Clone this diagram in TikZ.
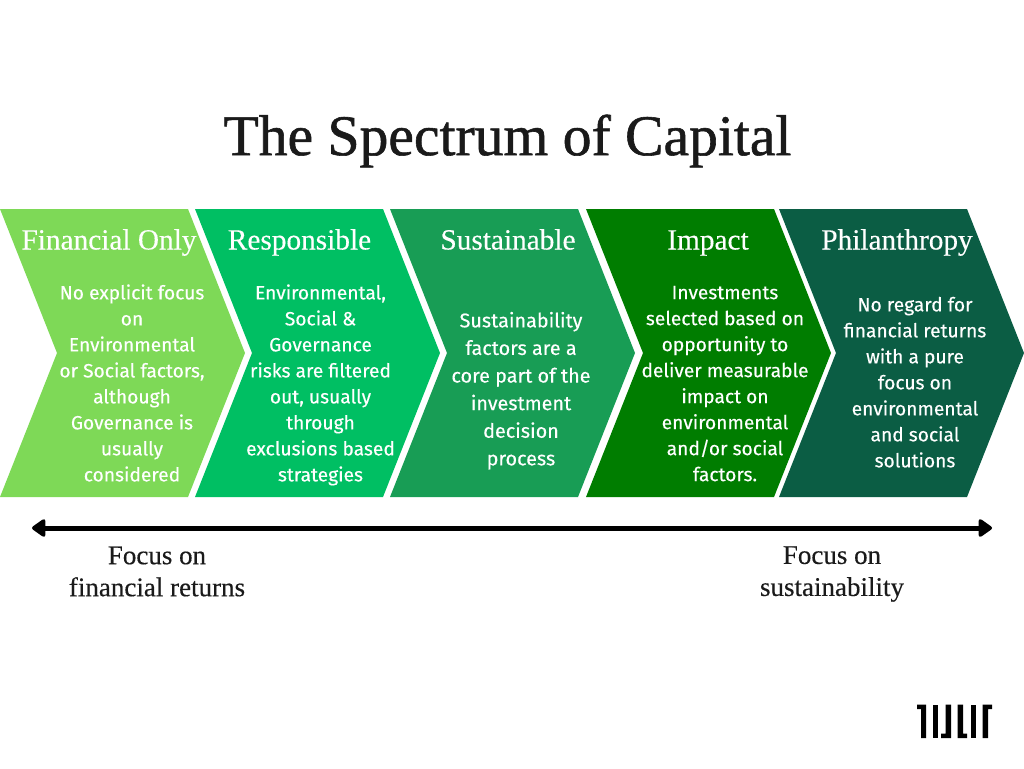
\documentclass[tikz,border=0pt]{standalone}
\usepackage{fontspec}
\setmainfont[FakeBold=0.35]{Liberation Serif}
\newfontfamily\titlefont[FakeBold=1]{Liberation Serif}
\newfontfamily\bodyfont[FakeBold=0.3]{Fira Sans}
\usetikzlibrary{arrows.meta,positioning}

\definecolor{lime}{HTML}{7ED957}
\definecolor{mint}{HTML}{00BF63}
\definecolor{sea}{HTML}{189D55}
\definecolor{leaf}{HTML}{007D00}
\definecolor{pine}{HTML}{0B5D44}
\definecolor{ink}{HTML}{1A1A1A}

\tikzset{
  head/.style={text=white, inner sep=0pt, text height=20pt, text depth=7pt, font=\fontsize{29.3}{29}\selectfont},
  body/.style={text=white, inner sep=0pt, align=center, font=\bodyfont\fontsize{19.2}{26}\selectfont},
  bigbody/.style={body, font=\bodyfont\fontsize{19.8}{27.6}\selectfont},
  focus/.style={text=ink, inner sep=0pt, align=center, font=\fontsize{27}{32}\selectfont},
}

\begin{document}
\begin{tikzpicture}[x=1pt, y=-1pt, node distance=36pt]
      \useasboundingbox (0,0) rectangle (1024,768);

      % chevrons
      \foreach \x/\c in {0/lime, 195/mint, 390/sea, 586/leaf, 779/pine}
        \fill[\c] (\x,209) -- (\x+188,209) -- (\x+245,353) -- (\x+188,497) -- (\x,497) -- (\x+57,353) -- cycle;

      \node[text=ink, font=\titlefont\fontsize{57.6}{58}\selectfont] (title) at (507.5,141) {The Spectrum of Capital};

      \node[head] (h1) at (109,243) {Financial Only};
      \node[head] (h2) [right=of h1, xshift=-5pt] {Responsible};
      \node[head] (h3) at (508,243) {Sustainable};
      \node[head] (h4) at (708,243) {Impact};
      \node[head] (h5) at (897,243) {Philanthropy};

      \node[body] (b1) [below=27.5pt of h1, xshift=23pt] {No explicit focus\\on\\Environmental\\or Social factors,\\although\\Governance is\\usually\\considered};
      \node[body] (b2) [below=27.5pt of h2, xshift=21pt] {Environmental,\\Social \&\\Governance\\risks are filtered\\out, usually\\through\\exclusions based\\strategies};
      \node[bigbody] (b3) [below=55pt of h3, xshift=13pt] {Sustainability\\factors are a\\core part of the\\investment\\decision\\process};
      \node[body] (b4) [below=29pt of h4, xshift=17pt] {Investments\\selected based on\\opportunity to\\deliver measurable\\impact on\\environmental\\and/or social\\factors.};
      \node[body] (b5) [below=40pt of h5, xshift=18pt] {No regard for\\financial returns\\with a pure\\focus on\\environmental\\and social\\solutions};

      % spectrum line
      \coordinate (left) at (32,528);
      \coordinate (right) at (992,528);
      \draw[line width=5pt, {Triangle[round, length=15pt, width=20pt]}-{Triangle[round, length=15pt, width=20pt]}] (left) -- (right);

      \node[focus] (f1) at (157,571.5) {Focus on\\financial returns};
      \node[focus] (f2) at (832,574) {Focus on\\sustainability};

      % logo
      \fill[black] (917,704.5) rectangle (926,709) (921,704.5) rectangle (926,738);
      \fill[black] (932.5,704.5) rectangle (938,738);
      \fill[black] (945.5,704.5) rectangle (951,738) (941,733.5) rectangle (951,738);
      \fill[black] (957.5,704.5) rectangle (963,738) (957.5,733.5) rectangle (967,738);
      \fill[black] (970.5,704.5) rectangle (976,738);
      \fill[black] (982.5,704.5) rectangle (988,738) (982.5,704.5) rectangle (992,709);
    \end{tikzpicture}
\end{document}
